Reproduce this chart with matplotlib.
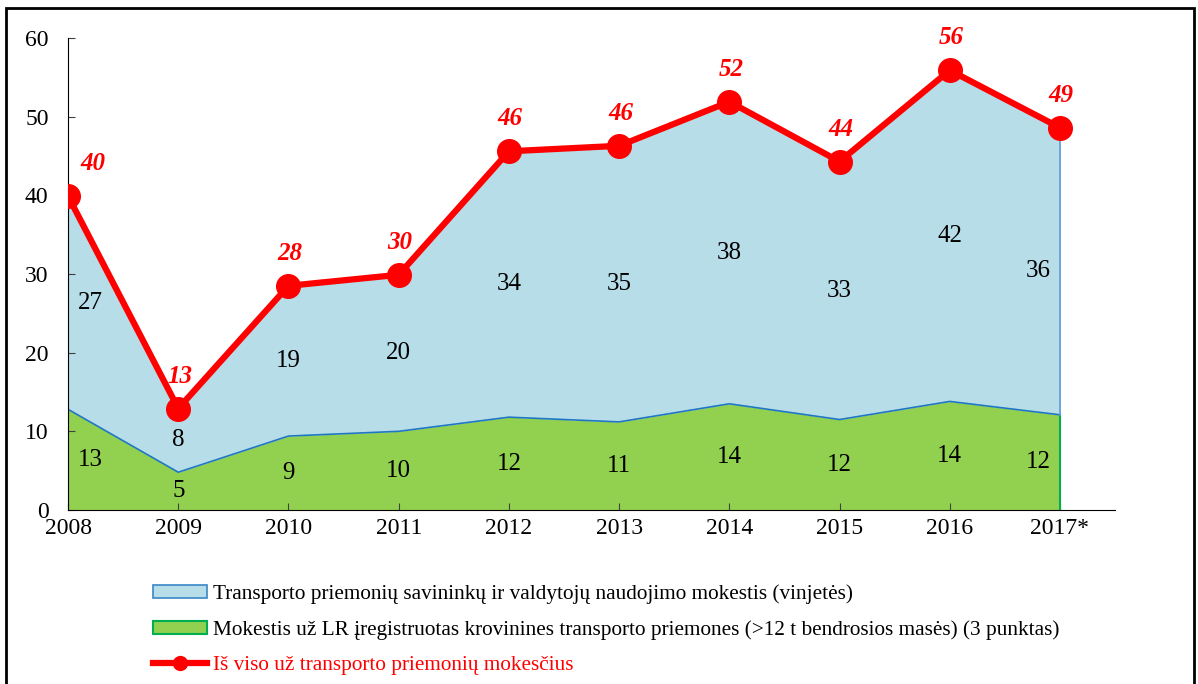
import numpy as np
import matplotlib.pyplot as plt
from matplotlib.patches import Rectangle

plt.rcParams['font.family'] = ['Liberation Serif', 'DejaVu Serif']

years = ['2008', '2009', '2010', '2011', '2012', '2013', '2014', '2015', '2016', '2017*']
green_vals = [12.8, 4.8, 9.4, 10.0, 11.8, 11.2, 13.5, 11.5, 13.8, 12.1]
blue_vals = [27.1, 8.1, 19.1, 19.9, 33.8, 35.1, 38.4, 32.8, 42.1, 36.5]
total_vals = [39.9, 12.9, 28.5, 29.9, 45.6, 46.3, 51.9, 44.3, 55.9, 48.6]
green_labels = ['13', '5', '9', '10', '12', '11', '14', '12', '14', '12']
blue_labels = ['27', '8', '19', '20', '34', '35', '38', '33', '42', '36']
total_labels = ['40', '13', '28', '30', '46', '46', '52', '44', '56', '49']

leg_blue = 'Transporto priemonių savininkų ir valdytojų naudojimo mokestis (vinjetės)'
leg_green = 'Mokestis už LR įregistruotas krovinines transporto priemones (>12 t bendrosios masės) (3 punktas)'
leg_red = 'Iš viso už transporto priemonių mokesčius'

x = np.arange(len(years))
green = np.array(green_vals)
blue = np.array(blue_vals)
top = green + blue

fig = plt.figure(figsize=(11.98, 6.84), dpi=100)
ax = fig.add_axes([0.0568, 0.2544, 0.874, 0.690])

ax.fill_between(x, 0, green, color='#92d050', lw=0)
ax.fill_between(x, green, top, color='#b7dde8', lw=0)
ax.plot(x, green, color='#1f77c4', lw=1.2)
ax.plot([x[-1], x[-1]], [0, green[-1]], color='#00b050', lw=1.5)
ax.plot([x[-1], x[-1]], [green[-1], top[-1]], color='#5b9bd5', lw=1.2)
ax.plot(x, total_vals, color='#ff0000', lw=4.5, marker='o', ms=17, zorder=5)

for i in range(len(x)):
    dx = 0.2 if i == 0 else (-0.2 if i == len(x) - 1 else 0)
    ax.text(x[i] + dx, green[i] / 2, green_labels[i], ha='center', va='center', fontsize=18)
    ax.text(x[i] + dx, green[i] + blue[i] / 2, blue_labels[i], ha='center', va='center', fontsize=18)
    ax.annotate(total_labels[i], (x[i], total_vals[i]), xytext=(1 if i else 18, 15),
                textcoords='offset points', ha='center', va='bottom', fontsize=18,
                color='#ff0000', fontweight='bold', fontstyle='italic')

ax.set_xlim(0, 9.5)
ax.set_ylim(0, 60)
ax.set_yticks(range(0, 61, 10))
ax.set_xticks(x)
ax.set_xticklabels(years)
ax.spines['top'].set_visible(False)
ax.spines['right'].set_visible(False)
ax.tick_params(axis='both', direction='in', labelsize=17, length=5, color='#404040')
ax.tick_params(axis='y', pad=14)
ax.tick_params(axis='x', pad=6)

h_blue = Rectangle((0, 0), 1, 1, facecolor='#b7dde8', edgecolor='#3a86c8', lw=1.2)
h_green = Rectangle((0, 0), 1, 1, facecolor='#92d050', edgecolor='#00b050', lw=1.5)
h_red, = plt.plot([], [], color='#ff0000', lw=4.5, marker='o', ms=10)
leg = fig.legend([h_blue, h_green, h_red], [leg_blue, leg_green, leg_red],
                 loc='upper left', bbox_to_anchor=(0.119, 0.161), frameon=False,
                 fontsize=15.3, handlelength=2.55, handleheight=0.6, handletextpad=0.25,
                 labelspacing=0.75, borderpad=0)
leg.get_texts()[2].set_color('#ff0000')

fig.patches.append(Rectangle((0.005, -0.05), 0.992, 1.038, transform=fig.transFigure,
                             fill=False, edgecolor='black', lw=2))

fig.savefig('out.png', dpi=100)
